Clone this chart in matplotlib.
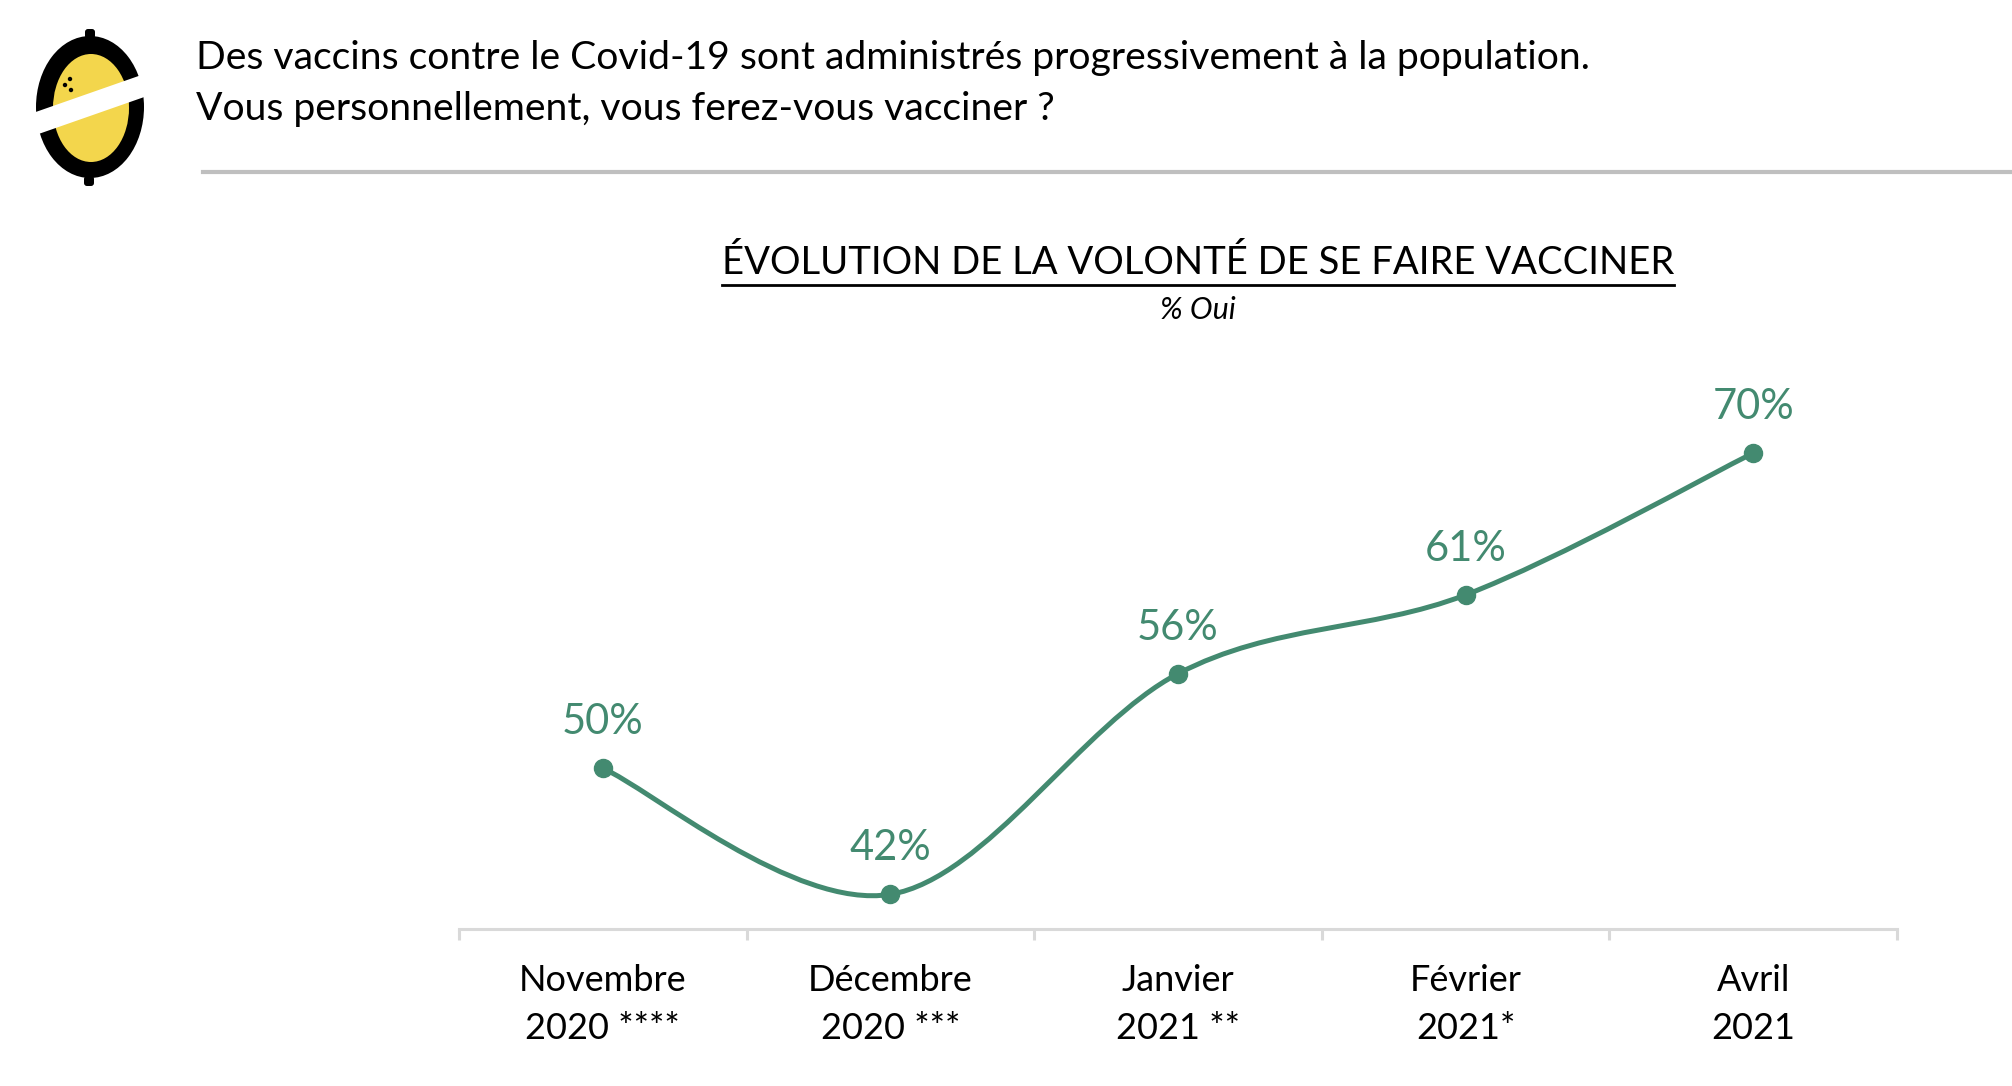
import matplotlib
matplotlib.use("Agg")
import matplotlib.pyplot as plt
from matplotlib.path import Path
from matplotlib.patches import PathPatch, Ellipse, Polygon, FancyBboxPatch, Circle
from matplotlib.lines import Line2D

# Data
months = ["Novembre\n2020 ****", "Décembre\n2020 ***", "Janvier\n2021 **", "Février\n2021*", "Avril\n2021"]
oui_pct = [50, 42, 56, 61, 70]
question = ["Des vaccins contre le Covid-19 sont administrés progressivement à la population.",
            "Vous personnellement, vous ferez-vous vacciner ?"]
chart_title = "ÉVOLUTION DE LA VOLONTÉ DE SE FAIRE VACCINER"
subtitle = "% Oui"

GREEN = "#438a70"
GRID = "#d9d9d9"
W, H = 2012, 1086

plt.rcParams["font.family"] = ["Lato", "DejaVu Sans"]

fig = plt.figure(figsize=(W / 100, H / 100), dpi=100)
fig.patch.set_facecolor("white")


def fx(px):
    return px / W


def fy(py):
    return 1 - py / H


# Header: question and rule
fig.text(fx(196), fy(58), question[0], fontsize=28.2, va="center", ha="left", color="black")
fig.text(fx(196), fy(109), question[1], fontsize=28.2, va="center", ha="left", color="black")
fig.add_artist(Line2D([fx(203), 1.0], [fy(172), fy(172)], color="#bfbfbf", lw=3))

# Logo
lg = fig.add_axes([fx(20), fy(200), fx(140), 180 / H])
lg.set_xlim(20, 160)
lg.set_ylim(200, 20)
lg.axis("off")
lg.add_patch(FancyBboxPatch((85, 29), 10, 10, boxstyle="round,pad=0,rounding_size=3", fc="black", ec="none"))
lg.add_patch(FancyBboxPatch((84, 176), 10, 10, boxstyle="round,pad=0,rounding_size=3", fc="black", ec="none"))
lg.add_patch(Ellipse((90, 107), 108, 142, fc="black", ec="none"))
lg.add_patch(Ellipse((91, 108), 76, 108, fc="#f3d64c", ec="none"))
lg.add_patch(Polygon([(30, 114), (150, 72), (150, 95), (30, 137)], closed=True, fc="white", ec="none"))
for cx, cy in [(70, 79), (65, 85), (71, 90)]:
    lg.add_patch(Circle((cx, cy), 2.2, fc="black", ec="none"))

# Chart titles
t = fig.text(fx(1198), fy(263), chart_title, fontsize=27.5, ha="center", va="center", color="black")
fig.text(fx(1198), fy(310), subtitle, fontsize=22, ha="center", va="center", style="italic", color="black")
fig.canvas.draw()
bb = t.get_window_extent(fig.canvas.get_renderer())
fig.add_artist(Line2D([bb.x0 / W, bb.x1 / W], [fy(285), fy(285)], color="black", lw=2))

# Main axes
ax = fig.add_axes([fx(459), fy(929), fx(1897 - 459), (929 - 379) / H])
ax.set_xlim(-0.5, len(months) - 0.5)
ax.set_ylim(39.8, 74.7)
for s in ["top", "left", "right"]:
    ax.spines[s].set_visible(False)
ax.spines["bottom"].set_color(GRID)
ax.spines["bottom"].set_linewidth(2.2)
ax.set_yticks([])
ax.set_xticks([i - 0.5 for i in range(len(months) + 1)])
ax.set_xticklabels([])
ax.tick_params(axis="x", which="major", length=8, width=2.2, color=GRID, direction="out")
ax.set_xticks(range(len(months)), minor=True)
ax.set_xticklabels(months, minor=True, fontsize=26, linespacing=1.55)
ax.tick_params(axis="x", which="minor", length=0, pad=25)

# Smoothed line (Excel-style Bezier through the points)
xs = list(range(len(oui_pct)))
pts = list(zip(xs, oui_pct))
verts = [pts[0]]
codes = [Path.MOVETO]
n = len(pts)
for i in range(n - 1):
    p0 = pts[max(i - 1, 0)]
    p1 = pts[i]
    p2 = pts[i + 1]
    p3 = pts[min(i + 2, n - 1)]
    c1 = (p1[0] + (p2[0] - p0[0]) / 6, p1[1] + (p2[1] - p0[1]) / 6)
    c2 = (p2[0] - (p3[0] - p1[0]) / 6, p2[1] - (p3[1] - p1[1]) / 6)
    verts += [c1, c2, p2]
    codes += [Path.CURVE4] * 3
ax.add_patch(PathPatch(Path(verts, codes), fc="none", ec=GREEN, lw=3.6, capstyle="round", clip_on=False))
ax.plot(xs, oui_pct, "o", color=GREEN, markersize=13, clip_on=False, zorder=3)

for x, v in zip(xs, oui_pct):
    ax.annotate(f"{v}%", (x, v), xytext=(0, 33), textcoords="offset points",
                ha="center", va="center", fontsize=30, color=GREEN)

fig.savefig("out.png", dpi=100, facecolor="white")
